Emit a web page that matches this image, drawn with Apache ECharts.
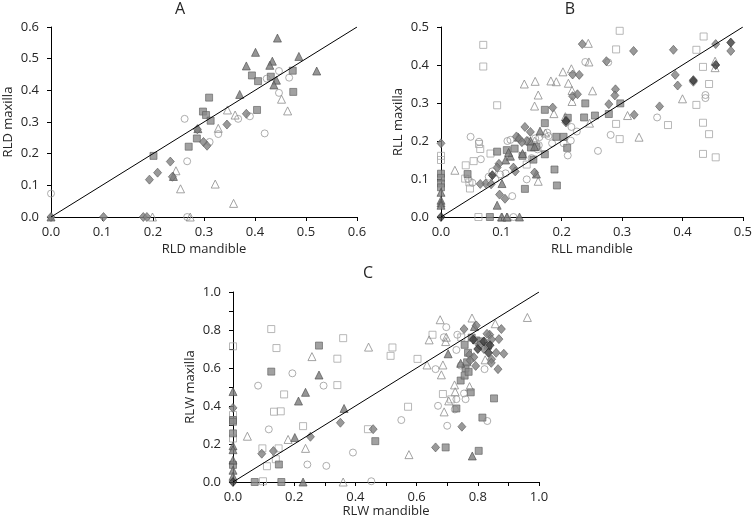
<!DOCTYPE html>
<html><head><meta charset="utf-8">
<script src="https://cdn.jsdelivr.net/npm/echarts@6/dist/echarts.min.js"></script>
<style>html,body{margin:0;padding:0;background:#fff}#c{width:755px;height:523px}</style>
</head><body><div id="c"></div>
<script>
// ---------- Panel A (RLD) ----------
const A_filledTri = [[0.444,0.565],[0.401,0.52],[0.486,0.507],[0.383,0.477],[0.434,0.492],[0.429,0.479],[0.521,0.461],[0.442,0.432],[0.437,0.417],[0.370,0.387],[0.288,0.279],[0.240,0.128],[0,0]];
const A_filledSq = [[0.310,0.377],[0.298,0.333],[0.304,0.322],[0.313,0.304],[0.201,0.193],[0.286,0.248],[0.270,0.222],[0.394,0.447],[0.406,0.429],[0.431,0.443],[0.474,0.462],[0.475,0.395],[0.404,0.338]];
const A_filledDia = [[0.383,0.326],[0.345,0.292],[0.287,0.277],[0.299,0.237],[0.306,0.225],[0.234,0.175],[0.209,0.14],[0.238,0.127],[0.193,0.118],[0.103,0],[0.181,0],[0.188,0],[0,0]];
const A_darkDia = [];
const A_openCirc = [[0,0.074],[0.262,0.31],[0.267,0.176],[0.311,0.237],[0.328,0.262],[0.367,0.31],[0.39,0.318],[0.419,0.264],[0.423,0.437],[0.447,0.461],[0.447,0.392],[0.467,0.44],[0.267,0]];
const A_openTri = [[0.346,0.338],[0.361,0.322],[0.328,0.28],[0.452,0.372],[0.464,0.335],[0.245,0.146],[0.254,0.089],[0.322,0.104],[0.358,0.043],[0.199,0],[0.273,0]];
const A_openSq = [];

// ---------- Panel B (RLL) ----------
const B_openSq = [[0.070,0.453],[0.070,0.396],[0.093,0.294],[0.296,0.490],[0.290,0.441],[0.435,0.475],[0.423,0.440],[0.434,0.395],[0.444,0.350],[0.423,0.295],[0.434,0.248],[0.444,0.218],[0.434,0.166],[0.455,0.157],[0.376,0.242],[0.296,0.205],[0.290,0.245],[0.041,0.136],[0.054,0.147],[0.065,0.179],[0.063,0.192],[0.082,0.167],[0.040,0.101],[0.047,0.091],[0.048,0.075],[0,0.161],[0,0.150],[0.062,0],[0.142,0.138]];
const B_filledSq = [[0,0.114],[0,0.103],[0,0.088],[0,0.078],[0.044,0.113],[0.081,0],[0.093,0.172],[0.109,0.176],[0.122,0.18],[0.135,0.161],[0.139,0.074],[0.158,0.185],[0.149,0.183],[0.153,0.151],[0.172,0.165],[0.172,0.247],[0.172,0.282],[0.191,0.211],[0.203,0.211],[0.209,0.182],[0.188,0.125],[0.192,0.083],[0.210,0.261],[0.239,0.299],[0.237,0.262],[0.255,0.267],[0.278,0.271],[0.297,0.299]];
const B_filledTri = [[0,0.065],[0,0.044],[0,0.037],[0,0.031],[0.093,0.031],[0.101,0.088],[0.107,0.150],[0.115,0.160],[0.112,0.17],[0.128,0.21],[0.148,0.2],[0.164,0.226],[0.155,0.185],[0.158,0.113],[0.135,0.167],[0.101,0],[0.109,0],[0.130,0]];
const B_filledDia = [[0,0.194],[0.234,0.455],[0.274,0.41],[0.319,0.437],[0.385,0.44],[0.455,0.455],[0.48,0.437],[0.418,0.356],[0.388,0.374],[0.392,0.346],[0.362,0.291],[0.32,0.269],[0.289,0.336],[0.288,0.32],[0.278,0.297],[0.218,0.375],[0.229,0.374],[0.218,0.318],[0.226,0.323],[0.207,0.249],[0.185,0.288],[0.139,0.237],[0.148,0.224],[0.125,0.212],[0.13,0.205],[0.142,0.2],[0.134,0.197],[0.12,0.13],[0.123,0.12],[0.155,0.117],[0.096,0.14],[0.093,0.13],[0.074,0.088],[0.065,0.087],[0.083,0.086],[0.097,0.059],[0.106,0.048]];
const B_darkDia = [[0.48,0.459],[0.455,0.40],[0.418,0.36],[0.207,0.253],[0.085,0.11],[0,0]];
const B_openCirc = [[0.049,0.211],[0.063,0.198],[0.115,0.203],[0.066,0.152],[0.107,0.115],[0.079,0.106],[0.118,0.055],[0.12,0],[0.142,0.099],[0.156,0.207],[0.239,0.408],[0.277,0.407],[0.216,0.237],[0.225,0.225],[0.176,0.222],[0.178,0.213],[0.163,0.21],[0.184,0.194],[0.203,0.194],[0.215,0.201],[0.210,0.162],[0.26,0.174],[0.281,0.216],[0.162,0.189],[0.358,0.262],[0.438,0.321],[0.438,0.313],[0.045,0.1],[0.052,0.09],[0.085,0.12],[0.09,0.1],[0.098,0.112],[0.15,0.155],[0.16,0.178],[0.11,0.2]];
const B_openTri = [[0.138,0.35],[0.156,0.357],[0.161,0.321],[0.155,0.292],[0.023,0.123],[0.161,0.094],[0.1,0],[0.11,0],[0.244,0.457],[0.216,0.390],[0.202,0.382],[0.182,0.358],[0.191,0.356],[0.245,0.408],[0.211,0.352],[0.217,0.333],[0.251,0.332],[0.217,0.304],[0.187,0.272],[0.206,0.264],[0.246,0.247],[0.309,0.267],[0.328,0.21],[0.454,0.41],[0.454,0.393],[0.40,0.311],[0.144,0.201],[0.173,0.221],[0.155,0.2]];

// ---------- Panel C (RLW) ----------
const C_openSq = [[0.125,0.805],[0.142,0.705],[0,0.714],[0.36,0.757],[0.341,0.649],[0.341,0.51],[0.167,0.461],[0.134,0.37],[0.156,0.372],[0.229,0.294],[0.441,0.278],[0.096,0.177],[0.149,0.177],[0.14,0.12],[0.111,0.083],[0,0.353],[0,0.326],[0,0.229],[0.098,0.004],[0.521,0.708],[0.515,0.664],[0.603,0.648],[0.572,0.396],[0.652,0.775],[0.686,0.463],[0.713,0.435],[0.746,0.761]];
const C_filledSq = [[0.281,0.718],[0.125,0.581],[0,0.326],[0,0.317],[0,0.256],[0,0.09],[0.15,0.092],[0.071,0],[0.158,0],[0.465,0.215],[0.695,0.182],[0.803,0.164],[0.815,0.339],[0.853,0.44],[0.777,0.472],[0.73,0.387],[0.744,0.534],[0.757,0.56],[0.76,0.6],[0.765,0.63],[0.757,0.722],[0.833,0.717],[0.78,0.76],[0.795,0.745],[0.81,0.74],[0.768,0.68],[0.77,0.58]];
const C_filledTri = [[0.281,0.563],[0.237,0.472],[0.214,0.426],[0.363,0.387],[0.202,0.234],[0.229,0],[0,0.476],[0,0.19],[0,0.17],[0,0.115],[0,0.062],[0,0.03],[0.782,0.137],[0.703,0.675],[0.744,0.625],[0.789,0.818]];
const C_filledDia = [[0,0.39],[0.094,0.149],[0.132,0.163],[0.253,0.238],[0.351,0.312],[0.458,0.278],[0.662,0.182],[0.748,0.291],[0.866,0.594],[0.885,0.675],[0.877,0.805],[0.755,0.805],[0.795,0.824],[0.793,0.611],[0.845,0.646],[0.844,0.627],[0.839,0.775],[0.845,0.75],[0.869,0.752],[0.773,0.669],[0.787,0.657],[0.775,0.64],[0.82,0.7],[0.83,0.78],[0.805,0.72],[0.86,0.68]];
const C_darkDia = [[0.8,0.7],[0.82,0.74],[0.84,0.72],[0.785,0.75],[0.835,0.68],[0,0]];
const C_openCirc = [[0.082,0.507],[0.194,0.572],[0.296,0.507],[0.117,0.277],[0.243,0.092],[0.305,0.085],[0.392,0.155],[0.452,0.004],[0.697,0.815],[0.689,0.762],[0.55,0.326],[0.67,0.401],[0.7,0.296],[0.725,0.382],[0.831,0.321],[0.822,0.594],[0.662,0.594],[0.755,0.466],[0.76,0.436],[0.73,0.436],[0.744,0.613],[0.733,0.775],[0.73,0.695]];
const C_openTri = [[0.258,0.66],[0.443,0.71],[0.047,0.241],[0.18,0.224],[0.237,0.177],[0.36,0],[0.677,0.854],[0.781,0.863],[0.962,0.866],[0.641,0.748],[0.697,0.762],[0.695,0.739],[0.634,0.616],[0.681,0.564],[0.686,0.616],[0.724,0.511],[0.726,0.475],[0.705,0.427],[0.69,0.369],[0.575,0.144],[0.773,0.502],[0.824,0.643],[0.857,0.833]];

// ---------- Axes / labels ----------
const panelTitles = ['A','B','C'];
const xNames = ['RLD mandible','RLL mandible','RLW mandible'];
const yNames = ['RLD maxilla','RLL maxilla','RLW maxilla'];
const axisMax = [0.6, 0.5, 1.0];
const labelStep = [0.1, 0.1, 0.2];

const FONT = 'Open Sans';
const TXT = '#262626';
const grids = [
  {left:51, top:27, width:306, height:190},
  {left:441, top:27, width:306, height:190},
  {left:233, top:292, width:306, height:190}
];
const xGap = [26, 26, 22];

const xAxes = [], yAxes = [];
for (let i = 0; i < 3; i++) {
  const minor = labelStep[i] > 0.1;
  const common = {
    type:'value', gridIndex:i, min:0, max:axisMax[i], interval:labelStep[i],
    nameLocation:'middle',
    nameTextStyle:{fontFamily:FONT, fontSize:13, color:TXT},
    axisLine:{show:true, onZero:false, lineStyle:{color:'#000', width:1}},
    axisTick:{show:true, length:4, lineStyle:{color:'#000', width:1}},
    minorTick:{show:minor, splitNumber:2, length:4, lineStyle:{color:'#000', width:1}},
    splitLine:{show:false}, minorSplitLine:{show:false}
  };
  xAxes.push(Object.assign({}, common, {
    name:xNames[i], nameGap:xGap[i],
    axisLabel:{formatter:v=>v.toFixed(1), fontFamily:FONT, fontSize:13, color:TXT, margin:9}
  }));
  yAxes.push(Object.assign({}, common, {
    name:yNames[i], nameGap:36,
    axisLabel:{formatter:v=>v.toFixed(1), fontFamily:FONT, fontSize:13, color:TXT, margin:12}
  }));
}

const styles = {
  openSq:   {symbol:'rect', size:7, itemStyle:{color:'rgba(255,255,255,0)', borderColor:'#a6a6a6', borderWidth:1}, z:2},
  openCirc: {symbol:'circle', size:7, itemStyle:{color:'rgba(255,255,255,0)', borderColor:'#9a9a9a', borderWidth:1}, z:2},
  openTri:  {symbol:'triangle', size:8, itemStyle:{color:'rgba(255,255,255,0)', borderColor:'#8c8c8c', borderWidth:1}, z:2},
  filledSq: {symbol:'rect', size:7, itemStyle:{color:'#8a8a8a', borderColor:'#5e5e5e', borderWidth:0.8}, z:3},
  filledTri:{symbol:'triangle', size:8, itemStyle:{color:'#7a7a7a', borderColor:'#4a4a4a', borderWidth:0.8}, z:3},
  filledDia:{symbol:'diamond', size:[8,9], itemStyle:{color:'#808080', borderColor:'#5a5a5a', borderWidth:0.8}, z:3},
  darkDia:  {symbol:'diamond', size:[8,9], itemStyle:{color:'#3c3c3c', borderColor:'#222', borderWidth:0.8}, z:4}
};

const panels = [
  {openSq:A_openSq, openCirc:A_openCirc, openTri:A_openTri, filledSq:A_filledSq, filledTri:A_filledTri, filledDia:A_filledDia, darkDia:A_darkDia},
  {openSq:B_openSq, openCirc:B_openCirc, openTri:B_openTri, filledSq:B_filledSq, filledTri:B_filledTri, filledDia:B_filledDia, darkDia:B_darkDia},
  {openSq:C_openSq, openCirc:C_openCirc, openTri:C_openTri, filledSq:C_filledSq, filledTri:C_filledTri, filledDia:C_filledDia, darkDia:C_darkDia}
];

const series = [];
panels.forEach((p, i) => {
  Object.keys(styles).forEach(k => {
    const s = styles[k];
    series.push({
      type:'scatter', xAxisIndex:i, yAxisIndex:i, data:p[k],
      symbol:s.symbol, symbolSize:s.size, itemStyle:s.itemStyle, z:s.z,
      silent:true
    });
  });
  series.push({
    type:'line', xAxisIndex:i, yAxisIndex:i, data:[[0,0],[axisMax[i],axisMax[i]]],
    symbol:'none', lineStyle:{color:'#000', width:1}, z:5, silent:true
  });
});

const titlePos = [[180,9],[570,9],[368,273]];
const graphic = panelTitles.map((t, i) => ({
  type:'text', x:titlePos[i][0], y:titlePos[i][1],
  style:{text:t, fontFamily:FONT, fontSize:16, fill:TXT, textAlign:'center', textVerticalAlign:'middle'}
}));

const chart = echarts.init(document.getElementById('c'));
chart.setOption({
  animation:false,
  backgroundColor:'#fff',
  grid:grids,
  xAxis:xAxes,
  yAxis:yAxes,
  series:series,
  graphic:graphic
});
</script>
</body></html>
